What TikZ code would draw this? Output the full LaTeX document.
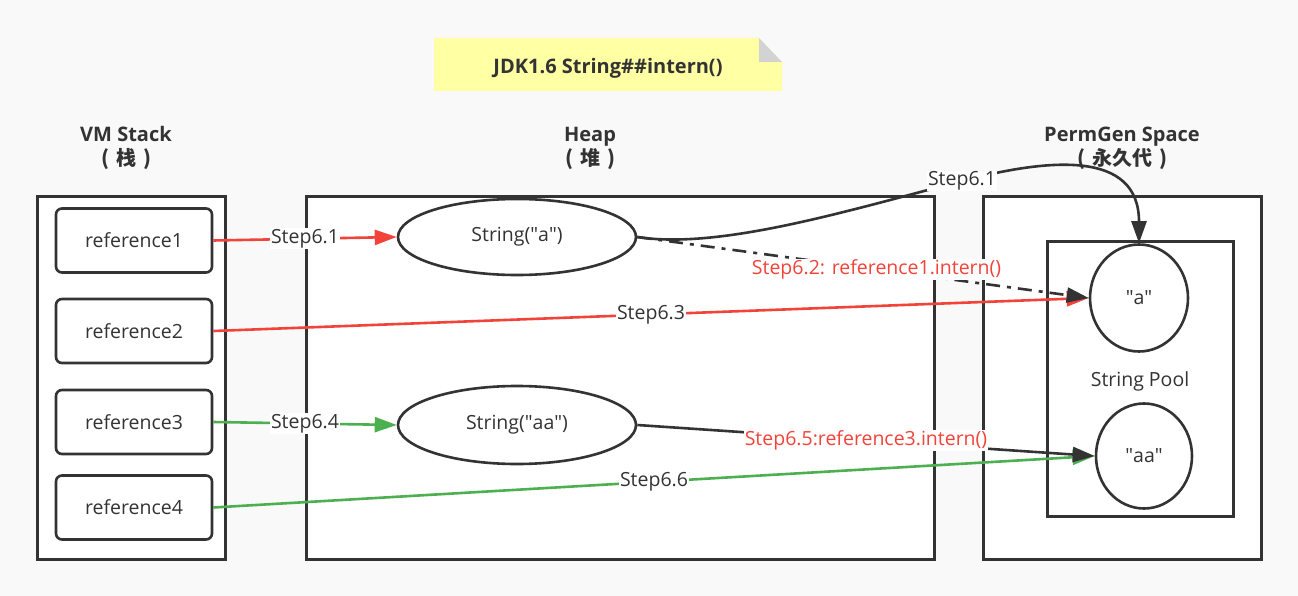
\documentclass[tikz,border=0pt]{standalone}
\usepackage{fontspec}
\setmainfont{Open Sans}
\newfontfamily\cjkf{Noto Sans CJK SC}
\usetikzlibrary{arrows.meta,shapes.geometric}
\definecolor{bg}{HTML}{F9F9F9}
\definecolor{ink}{HTML}{333333}
\definecolor{myred}{HTML}{F2433A}
\definecolor{mygreen}{HTML}{4CAF50}
\definecolor{noteyellow}{HTML}{FFFFA3}
\definecolor{notefold}{HTML}{D3D3D3}
\newcommand\dq{\XeTeXglyph\XeTeXcharglyph"22\relax}
\newcommand\cjkpar[1]{{\cjkf (\hspace{7pt}#1\hspace{7pt})}}
\begin{document}
\begin{tikzpicture}[x=1pt,y=-1pt,
  txt/.style={font=\fontsize{19.5}{23}\selectfont, text=ink},
  head/.style={font=\bfseries\fontsize{20}{24}\selectfont, text=ink, align=center},
  cont/.style={draw=ink, line width=3pt, fill=white, inner sep=0pt},
  refbox/.style={txt, draw=ink, line width=2.6pt, fill=white, rounded corners=6pt, minimum width=156pt, minimum height=64pt, inner sep=0pt},
  obj/.style={txt, ellipse, draw=ink, line width=2.6pt, fill=white, inner sep=0pt},
  lbl/.style={txt, fill=white, inner sep=1pt},
  rlbl/.style={lbl, text=myred},
  tip/.style={-{Triangle[length=22pt,width=15pt]}},
  redarr/.style={tip, draw=myred, line width=2.6pt},
  greenarr/.style={tip, draw=mygreen, line width=2.6pt},
  blackarr/.style={tip, draw=ink, line width=2.6pt}
]
\useasboundingbox[fill=bg] (0,0) rectangle (1298,596);

% title note
\fill[noteyellow] (434,38) -- (759,38) -- (782,62) -- (782,91) -- (434,91) -- cycle;
\fill[notefold] (759,38) -- (782,62) -- (759,62) -- cycle;
\node[head] (title) at (608,68) {JDK1.6 String\#\#intern()};

% headings
\node[head] (hvm) at (126,148) {VM Stack\\\cjkpar{栈}};
\node[head] (hheap) at (590,148) {Heap\\\cjkpar{堆}};
\node[head] (hperm) at (1122,148) {PermGen Space\\\cjkpar{永久代}};

% containers
\node[cont, minimum width=188pt, minimum height=362pt] (vm) at (131,378) {};
\node[cont, minimum width=628pt, minimum height=362pt] (heap) at (620,378) {};
\node[cont, minimum width=278pt, minimum height=362pt] (perm) at (1122,378) {};
\node[cont, minimum width=186pt, minimum height=275pt] (pool) at (1140,378.5) {};
\node[txt] (pooltxt) at (1140,381) {String Pool};

% references
\node[refbox] (ref1) at (134,240.5) {reference1};
\node[refbox] (ref2) at (134,331) {reference2};
\node[refbox] (ref3) at (134,422) {reference3};
\node[refbox] (ref4) at (134,507.5) {reference4};

% heap objects
\node[obj, minimum width=238pt, minimum height=76pt] (sa) at (517,237) {String(\dq a\dq)};
\node[obj, minimum width=238pt, minimum height=78pt] (saa) at (517,425) {String(\dq aa\dq)};

% pool objects
\node[obj, minimum width=98pt, minimum height=107pt] (pa) at (1139,298) {\dq a\dq};
\node[obj, minimum width=96pt, minimum height=105pt] (paa) at (1144,456) {\dq aa\dq};

% connectors
\draw[redarr] (ref1.east) -- node[lbl, pos=0.5] {Step6.1} (sa.west);
\draw[redarr] (ref2.east) -- node[lbl, pos=0.5] {Step6.3} (pa.west);
\draw[greenarr] (ref3.east) -- node[lbl, pos=0.5] {Step6.4} (saa.west);
\draw[greenarr] (ref4.east) -- node[lbl, pos=0.5] {Step6.6} (paa.west);

\coordinate (c61) at (962,181);
\draw[blackarr] (sa.east) .. controls (720,250) and (850,210) .. (c61)
   .. controls (1050,158) and (1139,150) .. (pa.north);
\node[lbl] (l61) at (c61) {Step6.1};

\draw[blackarr, dash pattern=on 14pt off 7pt on 4pt off 7pt] (sa.east) -- node[rlbl, pos=0.53] {Step6.2: reference1.intern()} (pa.west);
\draw[blackarr] (saa.east) -- node[rlbl, pos=0.5] {Step6.5:reference3.intern()} (paa.west);
\end{tikzpicture}
\end{document}
